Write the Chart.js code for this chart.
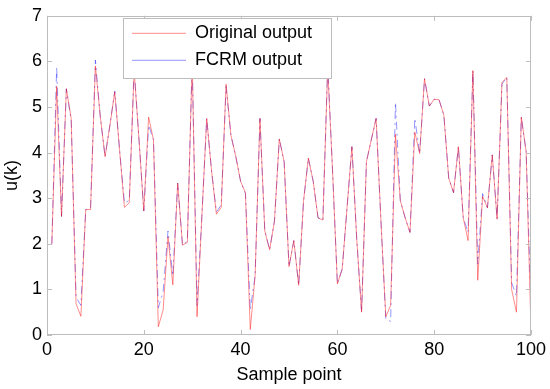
<!DOCTYPE html>
<html><head><meta charset="utf-8">
<script src="https://cdn.jsdelivr.net/npm/chart.js@4/dist/chart.umd.min.js"></script>
<style>html,body{margin:0;padding:0;background:#fff;}#wrap{width:550px;height:389px;position:relative;}</style>
</head><body><div id="wrap"><canvas id="c" width="550" height="389"></canvas></div>
<script>
const samplePoints = [1,2,3,4,5,6,7,8,9,10,11,12,13,14,15,16,17,18,19,20,21,22,23,24,25,26,27,28,29,30,31,32,33,34,35,36,37,38,39,40,41,42,43,44,45,46,47,48,49,50,51,52,53,54,55,56,57,58,59,60,61,62,63,64,65,66,67,68,69,70,71,72,73,74,75,76,77,78,79,80,81,82,83,84,85,86,87,88,89,90,91,92,93,94,95,96,97,98,99,100];
const originalOutput = [2.0,5.45,2.6,5.4,4.75,0.69,0.41,2.75,2.75,5.9,4.8,3.91,4.6,5.33,4.05,2.8,2.9,5.8,4.3,2.72,4.78,4.28,0.18,0.55,2.15,1.1,3.33,1.97,2.03,6.0,0.4,2.6,4.75,3.6,2.65,2.8,5.5,4.38,3.92,3.37,3.12,0.12,1.3,4.75,2.28,1.87,2.5,4.3,3.8,1.5,2.07,1.09,2.93,3.88,3.37,2.57,2.52,5.85,3.6,1.12,1.45,2.8,4.13,2.1,0.5,3.8,4.28,4.75,2.5,0.4,0.65,4.4,2.95,2.57,2.25,4.45,3.98,5.62,5.02,5.17,5.16,4.82,3.44,3.12,4.13,2.57,2.07,5.8,1.2,3.04,2.79,3.95,2.54,5.54,5.65,1.0,0.5,4.78,4.02,0.12];
const fcrmOutput = [2.0,5.88,2.6,5.4,4.7,0.83,0.65,2.75,2.78,6.03,4.8,3.91,4.6,5.35,4.05,2.9,2.95,5.85,4.3,2.72,4.6,4.28,0.6,0.95,2.28,1.3,3.33,1.97,2.06,6.0,0.65,2.6,4.75,3.6,2.7,2.85,5.45,4.38,3.92,3.37,3.1,0.55,1.3,4.75,2.28,1.87,2.5,4.3,3.8,1.5,2.07,1.09,2.93,3.88,3.37,2.57,2.52,5.95,3.6,1.12,1.45,2.8,4.13,2.1,0.5,3.8,4.28,4.75,2.5,0.35,0.3,5.1,2.95,2.57,2.25,4.75,3.98,5.62,5.02,5.17,5.16,4.82,3.44,3.12,4.13,2.57,2.25,5.8,1.56,3.1,2.79,3.95,2.54,5.5,5.65,1.15,0.85,4.78,4.02,0.6];
const xTicks = [0,20,40,60,80,100];
const yTicks = [0,1,2,3,4,5,6,7];
const seriesNames = ['Original output','FCRM output'];

const FONT = 'Liberation Sans, Arial, sans-serif';
const FSIZE = 18;
const FRAME = '#bdbdbd';

const legendBox = {x1: 123, y1: 18, x2: 331, y2: 78};

const framePlugin = {
  id: 'framePlugin',
  beforeDraw(chart) {
    const lg = chart.legend;
    if (lg) { lg.left = legendBox.x1; lg.top = 15.3; lg.right = legendBox.x2 + 40; lg.bottom = 95; lg.width = lg.right - lg.left; lg.height = lg.bottom - lg.top; }
  },
  afterDatasetsDraw(chart) {
    const {ctx, chartArea: a, scales: {x, y}} = chart;
    ctx.save();
    ctx.strokeStyle = FRAME; ctx.lineWidth = 1; ctx.setLineDash([]);
    ctx.strokeRect(Math.round(a.left) + 0.5, Math.round(a.top) + 0.5, Math.round(a.width) - 1, Math.round(a.height) - 1);
    const L = 5;
    ctx.beginPath();
    xTicks.forEach(v => {
      const p = Math.round(x.getPixelForValue(v)) + 0.5;
      ctx.moveTo(p, a.bottom); ctx.lineTo(p, a.bottom - L);
      ctx.moveTo(p, a.top); ctx.lineTo(p, a.top + L);
    });
    yTicks.forEach(v => {
      const p = Math.round(y.getPixelForValue(v)) + 0.5;
      ctx.moveTo(a.left, p); ctx.lineTo(a.left + L, p);
      ctx.moveTo(a.right, p); ctx.lineTo(a.right - L, p);
    });
    ctx.stroke();
    // legend box
    ctx.fillStyle = '#fff';
    ctx.fillRect(legendBox.x1, legendBox.y1, legendBox.x2 - legendBox.x1, legendBox.y2 - legendBox.y1);
    ctx.strokeStyle = FRAME;
    ctx.strokeRect(legendBox.x1 + 0.5, legendBox.y1 + 0.5, legendBox.x2 - legendBox.x1, legendBox.y2 - legendBox.y1);
    ctx.restore();
    if (chart.legend) chart.legend.draw();
  }
};

new Chart(document.getElementById('c'), {
  type: 'line',
  data: {
    labels: samplePoints,
    datasets: [
      { label: seriesNames[0], data: originalOutput, borderColor: 'rgba(255,0,0,0.45)', backgroundColor: 'rgba(255,0,0,0.45)', borderWidth: 1, pointRadius: 0, tension: 0, pointStyle: 'line' },
      { label: seriesNames[1], data: fcrmOutput, borderColor: 'rgba(0,0,255,0.42)', backgroundColor: 'rgba(0,0,255,0.42)', borderWidth: 1, borderDash: [8, 4, 2, 4], pointRadius: 0, tension: 0, pointStyle: 'line' }
    ]
  },
  options: {
    responsive: false,
    animation: false,
    events: [],
    layout: { padding: { left: 0, top: 13, right: 18, bottom: 0 } },
    plugins: {
      tooltip: { enabled: false },
      legend: {
        display: true,
        position: 'chartArea',
        align: 'start',
        labels: { usePointStyle: true, pointStyle: 'line', pointStyleWidth: 54, boxHeight: FSIZE, padding: 9, color: '#000', font: { family: FONT, size: FSIZE } }
      }
    },
    scales: {
      x: {
        type: 'linear', min: 0, max: 100,
        afterBuildTicks: s => { s.ticks = xTicks.map(v => ({value: v})); },
        afterFit: s => { s.height = 54; },
        grid: { display: false, drawTicks: false },
        border: { display: false },
        ticks: { padding: 4, color: '#000', font: { family: FONT, size: FSIZE }, maxRotation: 0, autoSkip: false },
        title: { display: true, text: 'Sample point', color: '#000', font: { family: FONT, size: FSIZE }, padding: { top: 0, bottom: 3 } }
      },
      y: {
        type: 'linear', min: 0, max: 7,
        afterBuildTicks: s => { s.ticks = yTicks.map(v => ({value: v})); },
        afterFit: s => { s.width = 47; },
        grid: { display: false, drawTicks: false },
        border: { display: false },
        ticks: { padding: 5, color: '#000', font: { family: FONT, size: FSIZE }, autoSkip: false },
        title: { display: true, text: 'u(k)', color: '#000', font: { family: FONT, size: FSIZE }, padding: { top: 1, bottom: 0 } }
      }
    }
  },
  plugins: [framePlugin]
});
</script></body></html>
